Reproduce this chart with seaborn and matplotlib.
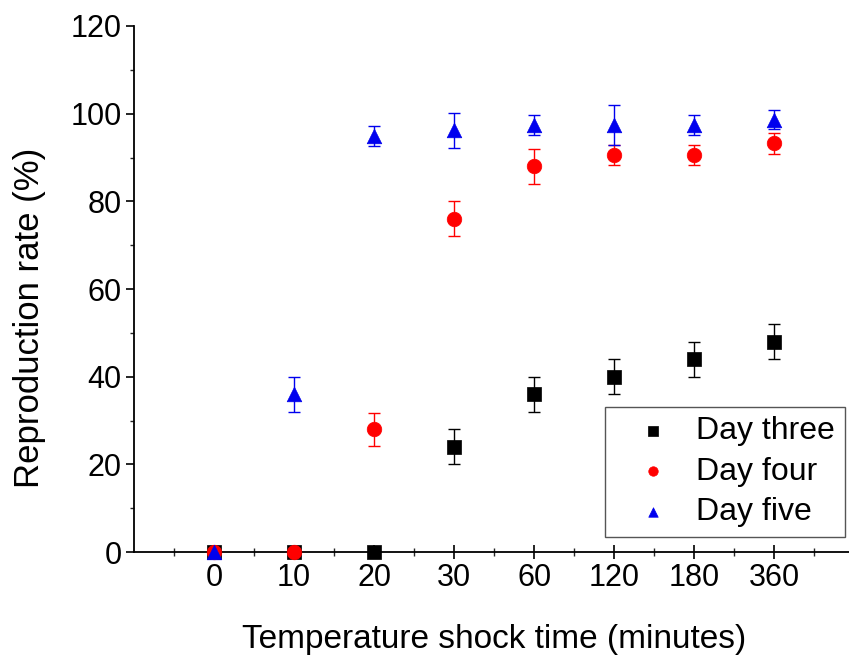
import matplotlib
matplotlib.use("Agg")
import matplotlib.pyplot as plt
import numpy as np
import pandas as pd
import seaborn as sns
from matplotlib.ticker import MultipleLocator, FixedLocator

# shock time categories (minutes)
times = ["0", "10", "20", "30", "60", "120", "180", "360"]

day_three = [0, 0, 0, 24, 36, 40, 44, 48]
day_three_err = [0, 0, 0, 4, 4, 4, 4, 4]

day_four = [0, 0, 28, 76, 88, 90.5, 90.5, 93.2]
day_four_err = [0, 0, 3.8, 4, 4, 2.3, 2.3, 2.5]

day_five = [0, 36, 95, 96.2, 97.4, 97.4, 97.4, 98.6]
day_five_err = [0, 4, 2.3, 4, 2.3, 4.6, 2.3, 2.2]

series = [
    ("Day three", day_three, day_three_err, "black", "s"),
    ("Day four", day_four, day_four_err, "#FF0000", "o"),
    ("Day five", day_five, day_five_err, "#0000EE", "^"),
]

sns.set_theme(style="ticks")
plt.rcParams["font.family"] = ["Liberation Sans", "DejaVu Sans"]
plt.rcParams["text.color"] = "black"
plt.rcParams["axes.labelcolor"] = "black"

fig = plt.figure(figsize=(8.49, 6.66), dpi=100)
ax = fig.add_axes([0.158, 0.171, 0.848, 0.79])

pos = np.arange(len(times))
for name, vals, errs, color, marker in series:
    df = pd.DataFrame({"pos": pos, "rate": vals, "err": errs})
    has_err = df[df["err"] > 0]
    ax.errorbar(has_err["pos"], has_err["rate"], yerr=has_err["err"], fmt="none",
                ecolor=color, elinewidth=1.0, capsize=4, capthick=1.0, zorder=2)
    sns.scatterplot(data=df, x="pos", y="rate", color=color, marker=marker,
                    s=110, edgecolor=color, linewidth=0.5, label=name, ax=ax,
                    zorder=3, clip_on=False)

ax.set_xlim(-1, 8)
ax.set_ylim(0, 120)
ax.xaxis.set_major_locator(FixedLocator(pos))
ax.set_xticklabels(times)
ax.xaxis.set_minor_locator(FixedLocator(np.arange(-0.5, 8, 1.0)))
ax.yaxis.set_major_locator(MultipleLocator(20))
ax.yaxis.set_minor_locator(MultipleLocator(10))

ax.tick_params(axis="x", which="major", direction="inout", length=10, width=1.2,
               labelsize=22, colors="black", pad=3)
ax.tick_params(axis="x", which="minor", direction="inout", length=6, width=1.0)
ax.tick_params(axis="y", which="major", direction="out", length=6, width=1.2,
               labelsize=22, colors="black", pad=3)
ax.tick_params(axis="y", which="minor", direction="out", length=3, width=1.0)

for side in ["left", "bottom"]:
    ax.spines[side].set_linewidth(1.3)
    ax.spines[side].set_color("black")
ax.spines["top"].set_visible(False)
ax.spines["right"].set_visible(False)

ax.set_xlabel("Temperature shock time (minutes)", fontsize=24, labelpad=22)
ax.set_ylabel("Reproduction rate (%)", fontsize=25)
ax.yaxis.set_label_coords(-0.123, 0.445)

leg = ax.legend(loc="lower right", bbox_to_anchor=(0.995, 0.194),
                bbox_transform=fig.transFigure, fontsize=23, frameon=True,
                fancybox=False, edgecolor="#555555", framealpha=1,
                handlelength=2.4, handletextpad=0.15, borderpad=0.3,
                labelspacing=0.33, markerscale=0.65, borderaxespad=0)
leg.get_frame().set_linewidth(1.0)

fig.savefig("out.png", dpi=100)
